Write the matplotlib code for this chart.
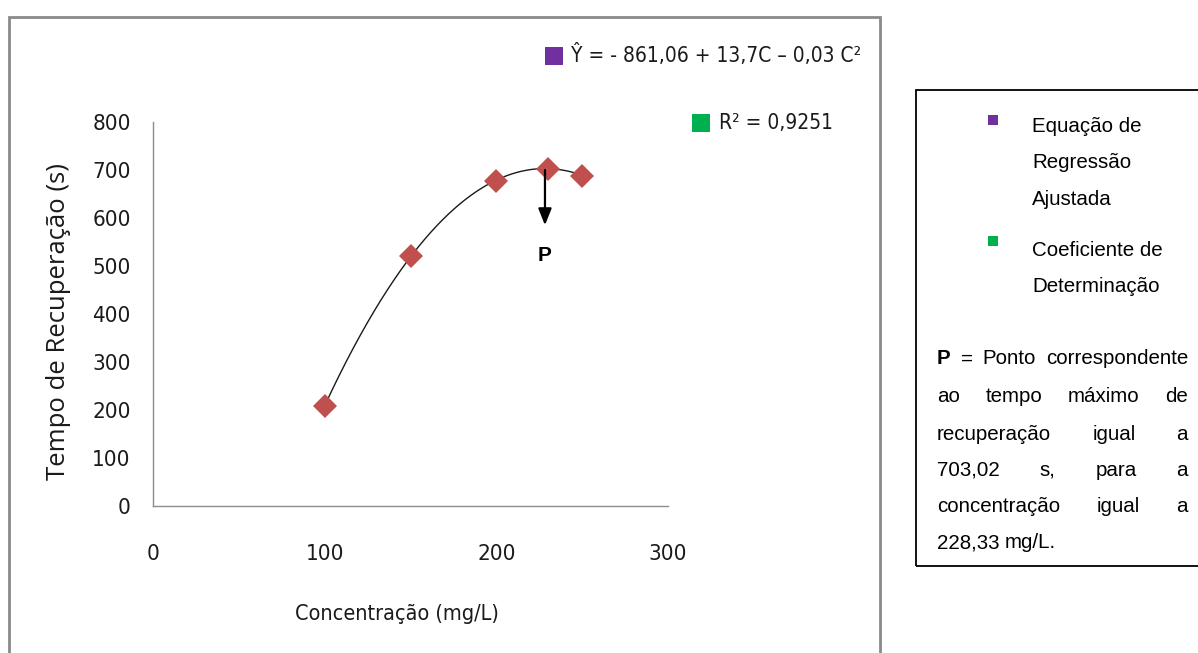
import matplotlib
matplotlib.use("Agg")
import matplotlib.pyplot as plt
import numpy as np
from matplotlib.patches import Rectangle

# ---- data ----
concentration = [100, 150, 200, 230, 250]
tempo = [208, 520, 678, 703, 688]
coef = [-861.06, 13.7, -0.03]   # a + b*C + c*C^2
p_x, p_y = 228.33, 703.02
x_ticks = [0, 100, 200, 300]
y_ticks = [0, 100, 200, 300, 400, 500, 600, 700, 800]

W, H = 1198, 653
fig = plt.figure(figsize=(W / 100, H / 100), dpi=100)
fig.patch.set_facecolor("white")

def fx(x):
    return x / W

def fy(y):
    return 1 - y / H

NARROW = ["DejaVu Sans"]
ARIAL = ["Liberation Sans", "DejaVu Sans"]
OPEN = ["Open Sans", "DejaVu Sans"]
COND = "condensed"

# outer chart frame
fig.add_artist(Rectangle((fx(9), fy(700)), fx(880) - fx(9), fy(17) - fy(700),
                         transform=fig.transFigure, fill=False, edgecolor="#8a8a8a", lw=2))
# right text box
fig.add_artist(Rectangle((fx(916), fy(566)), fx(1210) - fx(916), fy(90) - fy(566),
                         transform=fig.transFigure, fill=False, edgecolor="#000000", lw=1.3))

ax = fig.add_axes([fx(153), fy(506), fx(668) - fx(153), fy(122) - fy(506)])
ax.set_xlim(0, 300)
ax.set_ylim(0, 800)
for s in ["top", "right"]:
    ax.spines[s].set_visible(False)
for s in ["left", "bottom"]:
    ax.spines[s].set_color("#8c8c8c")
    ax.spines[s].set_linewidth(1.0)
ax.set_xticks(x_ticks)
ax.set_yticks(y_ticks)
ax.tick_params(length=0)
ax.tick_params(axis="x", pad=27)
ax.tick_params(axis="y", pad=16)
for lab in ax.get_xticklabels() + ax.get_yticklabels():
    lab.set_family(NARROW)
    lab.set_stretch(COND)
    lab.set_fontsize(16)
    lab.set_color("#1a1a1a")

# fitted curve
cc = np.linspace(min(concentration), max(concentration), 300)
yy = coef[0] + coef[1] * cc + coef[2] * cc ** 2
ax.plot(cc, yy, color="#1a1a1a", lw=1.0, zorder=2)
ax.plot(concentration, tempo, linestyle="none", marker="D", markersize=12,
        color="#C0504D", markeredgewidth=0, zorder=3)

# arrow to P
ax.annotate("", xy=(p_x, 585), xytext=(p_x, p_y - 3),
            arrowprops=dict(arrowstyle="-|>,head_width=0.4,head_length=1.0",
                            color="black", lw=1.6, shrinkA=0, shrinkB=0))
ax.text(p_x, 522, "P", ha="center", va="center", fontsize=15, fontweight="bold",
        family=ARIAL)

# axis titles
fig.text(fx(397), fy(614), "Concentração (mg/L)", ha="center", va="center",
         fontsize=15.5, family=NARROW, stretch=COND, color="#1a1a1a")
fig.text(fx(59), fy(321), "Tempo de Recuperação (s)", ha="center", va="center",
         rotation=90, fontsize=18.5, family=OPEN, color="#1a1a1a")

# equation labels
fig.add_artist(Rectangle((fx(545), fy(65)), fx(563) - fx(545), fy(47) - fy(65),
                         transform=fig.transFigure, color="#7030A0", lw=0))
fig.text(fx(571), fy(55), "Ŷ = - 861,06 + 13,7C – 0,03 C²", ha="left", va="center",
         fontsize=15, family=NARROW, stretch=COND, color="#1a1a1a")
fig.add_artist(Rectangle((fx(692), fy(132)), fx(710) - fx(692), fy(114) - fy(132),
                         transform=fig.transFigure, color="#00B050", lw=0))
fig.text(fx(719), fy(123), "R² = 0,9251", ha="left", va="center",
         fontsize=15, family=NARROW, stretch=COND, color="#1a1a1a")

# right box content
fig.add_artist(Rectangle((fx(988), fy(125)), fx(998) - fx(988), fy(115) - fy(125),
                         transform=fig.transFigure, color="#7030A0", lw=0))
fig.add_artist(Rectangle((fx(988), fy(246)), fx(998) - fx(988), fy(236) - fy(246),
                         transform=fig.transFigure, color="#00B050", lw=0))
BOX_FS = 14.8
for txt, y in [("Equação de", 127), ("Regressão", 163), ("Ajustada", 199),
               ("Coeficiente de", 250), ("Determinação", 287)]:
    fig.text(fx(1032), fy(y), txt, ha="left", va="center", fontsize=BOX_FS,
             family=ARIAL, color="black")

renderer = fig.canvas.get_renderer()

def justify(words, y, x0=937, x1=1188, justify_it=True):
    arts = []
    for w, bold in words:
        t = fig.text(0, fy(y), w, ha="left", va="center", fontsize=BOX_FS,
                     family=ARIAL, color="black",
                     fontweight="bold" if bold else "normal")
        arts.append(t)
    widths = [a.get_window_extent(renderer).width for a in arts]
    if justify_it and len(arts) > 1:
        gap = (x1 - x0 - sum(widths)) / (len(arts) - 1)
    else:
        gap = 5
    x = x0
    for a, wd in zip(arts, widths):
        a.set_x(fx(x))
        x += wd + gap

lines = [
    ([("P", True), ("=", False), ("Ponto", False), ("correspondente", False)], 359, True),
    ([("ao", False), ("tempo", False), ("máximo", False), ("de", False)], 397, True),
    ([("recuperação", False), ("igual", False), ("a", False)], 434, True),
    ([("703,02", False), ("s,", False), ("para", False), ("a", False)], 470, True),
    ([("concentração", False), ("igual", False), ("a", False)], 507, True),
    ([("228,33", False), ("mg/L.", False)], 543, False),
]
for words, y, j in lines:
    justify(words, y, justify_it=j)

fig.savefig("out.png", dpi=100)
